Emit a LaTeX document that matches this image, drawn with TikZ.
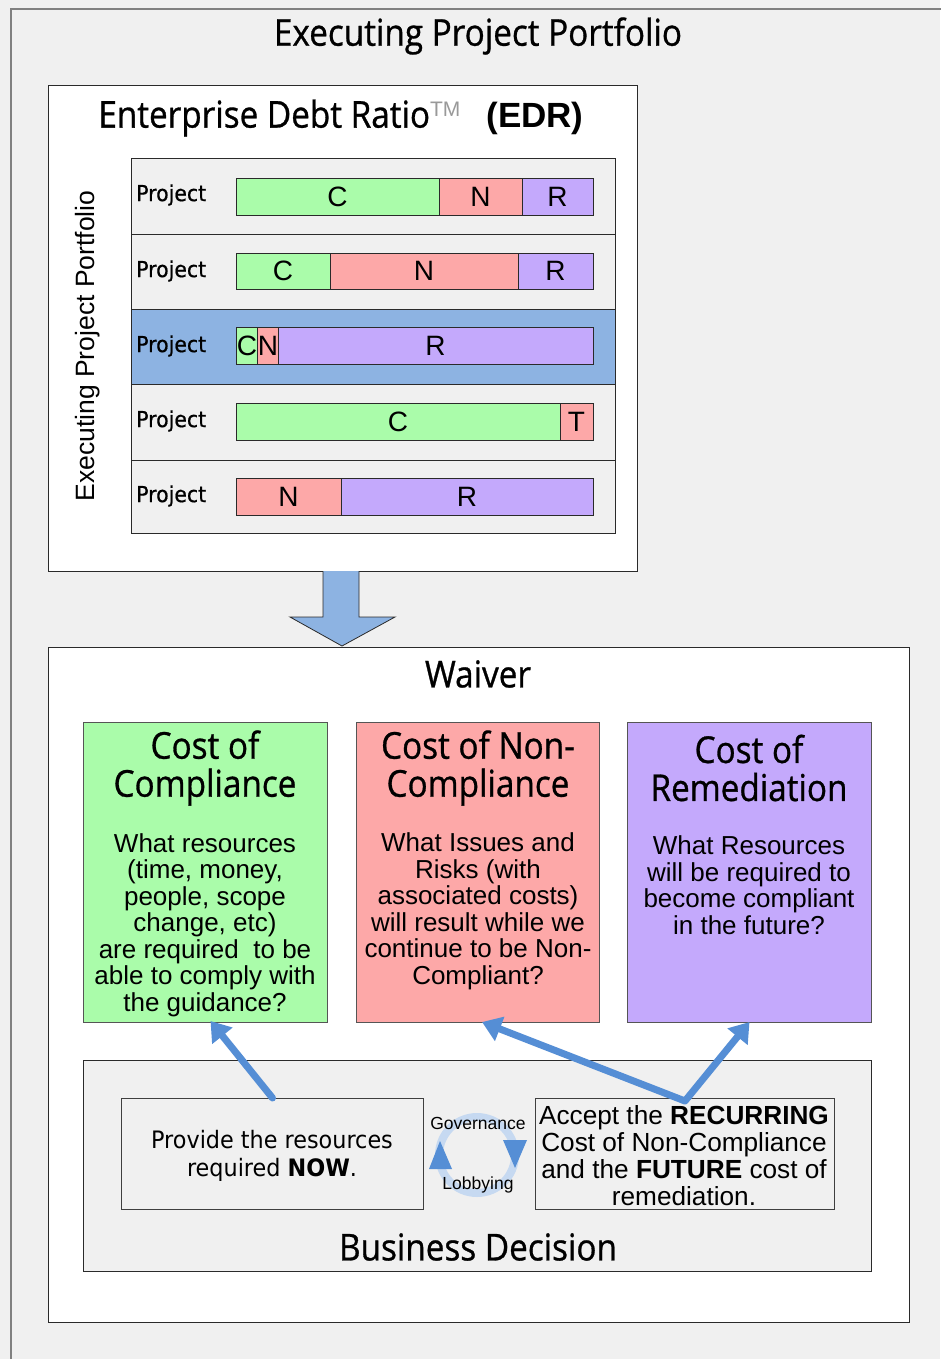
\documentclass[tikz,border=0pt]{standalone}
\usepackage{fontspec}
\setmainfont{Liberation Sans}
\newfontfamily\headfont[FakeStretch=0.9,FakeBold=0.8]{Open Sans}
\newfontfamily\tahfont[FakeStretch=0.93]{DejaVu Sans}
\newfontfamily\projfont[FakeStretch=0.93,FakeBold=0.6]{DejaVu Sans}
\usetikzlibrary{arrows.meta,calc}

\definecolor{pagebg}{HTML}{F0F0F0}
\definecolor{cgreen}{HTML}{AAFCAA}
\definecolor{cpink}{HTML}{FDA8A8}
\definecolor{cpurple}{HTML}{C4A9FC}
\definecolor{rowblue}{HTML}{8DB3E2}
\definecolor{arrowblue}{HTML}{558ED5}
\definecolor{ringblue}{HTML}{C6D9F1}
\definecolor{edgecol}{HTML}{2A2A2A}
\definecolor{framegray}{HTML}{808080}

\tikzset{
  panel/.style={draw=edgecol, line width=1.3pt, fill=white, anchor=north west, inner sep=0pt},
  rowbox/.style={draw=edgecol, line width=1pt, fill=pagebg, anchor=north west, inner sep=0pt},
  segbox/.style={draw=edgecol, line width=0.9pt, inner sep=0pt, font=\fontsize{28}{30}\selectfont},
  costbox/.style={draw=edgecol!80, line width=1pt, anchor=north west, inner sep=0pt},
  headfnt/.style={font=\headfont\fontsize{37}{38}\selectfont},
  headtext/.style={headfnt, inner sep=0pt, align=center},
  bodytext/.style={font=\fontsize{26}{26.5}\selectfont, inner sep=0pt, align=center},
  projlabel/.style={font=\projfont\fontsize{22}{24}\selectfont, anchor=west, inner sep=0pt},
  flowarrow/.style={draw=arrowblue, line width=7pt, line cap=round, line join=round},
}

% one coloured segment of a project bar: name, x1, x2, y1, y2, colour, letter
\newcommand\barseg[7]{%
  \node[segbox, fill=#6, minimum width={(#3-#2)*1pt}, minimum height={(#5-#4)*1pt}]
    (#1) at ({(#2+#3)/2},{(#4+#5)/2}) {#7};}

\begin{document}
\begin{tikzpicture}[x=1pt,y=-1pt]
\useasboundingbox (0,0) rectangle (940,1359);
\fill[pagebg] (0,0) rectangle (940,1359);

% outer frame
\node[draw=framegray, line width=2pt, anchor=north west, minimum width=950pt,
      minimum height=1370pt, inner sep=0pt] (frame) at (10,8) {};
\node[headfnt, inner sep=0pt] (maintitle) at (478,36) {Executing Project Portfolio};

% ---- Enterprise Debt Ratio panel ----
\node[panel, minimum width=589pt, minimum height=486pt] (edr) at (48,85) {};
\node[inner sep=0pt] (edrtitle) at (341,118)
  {\headfont\fontsize{37}{38}\selectfont Enterprise Debt Ratio\raisebox{11pt}{\normalfont\color{gray!80}\fontsize{21}{22}\selectfont TM}\hspace{26pt}\normalfont\fontsize{35}{38}\selectfont\bfseries (EDR)};

\node[rotate=90, font=\fontsize{26.5}{28}\selectfont, inner sep=0pt] (sidelabel) at (88,346) {Executing Project Portfolio};

\node[rowbox, minimum width=484pt, minimum height=76pt] (row1) at (131,158) {};
\node[rowbox, minimum width=484pt, minimum height=75pt] (row2) at (131,234) {};
\node[rowbox, fill=rowblue, minimum width=484pt, minimum height=75pt] (row3) at (131,309) {};
\node[rowbox, minimum width=484pt, minimum height=76pt] (row4) at (131,384) {};
\node[rowbox, minimum width=484pt, minimum height=73pt] (row5) at (131,460) {};

\node[projlabel] (p1) at (136,195) {Project};
\node[projlabel] (p2) at (136,271) {Project};
\node[projlabel] (p3) at (136,346) {Project};
\node[projlabel] (p4) at (136,421) {Project};
\node[projlabel] (p5) at (136,496) {Project};

\barseg{b1c}{236}{439}{178}{215}{cgreen}{C}
\barseg{b1n}{439}{522}{178}{215}{cpink}{N}
\barseg{b1r}{522}{593}{178}{215}{cpurple}{R}
\barseg{b2c}{236}{330}{253}{289}{cgreen}{C}
\barseg{b2n}{330}{518}{253}{289}{cpink}{N}
\barseg{b2r}{518}{593}{253}{289}{cpurple}{R}
\barseg{b3c}{236}{258}{327}{364}{cgreen}{C}
\barseg{b3n}{258}{278}{327}{364}{cpink}{N}
\barseg{b3r}{278}{593}{327}{364}{cpurple}{R}
\barseg{b4c}{236}{560}{403}{440}{cgreen}{C}
\barseg{b4t}{560}{593}{403}{440}{cpink}{T}
\barseg{b5n}{236}{341}{478}{515}{cpink}{N}
\barseg{b5r}{341}{593}{478}{515}{cpurple}{R}

% block arrow from the portfolio down to the waiver
\filldraw[fill=rowblue, draw=edgecol, line width=0.8pt]
  (323,571) -- (323,617) -- (290,617) -- (342,646) -- (395,617) -- (359,617) -- (359,571);

% ---- Waiver panel ----
\node[panel, minimum width=861pt, minimum height=675pt] (waiver) at (48,647) {};
\node[headfnt, inner sep=0pt] (waivertitle) at (478,674) {Waiver};

\node[costbox, fill=cgreen, minimum width=244pt, minimum height=300pt] (greenbox) at (83,722) {};
\node[costbox, fill=cpink, minimum width=243pt, minimum height=300pt] (redbox) at (356,722) {};
\node[costbox, fill=cpurple, minimum width=244pt, minimum height=300pt] (purplebox) at (627,722) {};

\node[headtext] (greenhead) at (205,768) {Cost of\\Compliance};
\node[headtext] (redhead) at (478,768) {Cost of Non-\\Compliance};
\node[headtext] (purplehead) at (749,768) {Cost of\\Remediation};

\node[bodytext] (greenbody) at (205,925)
  {What resources\\(time, money,\\people, scope\\change, etc)\\are required\ \ to be\\able to comply with\\the guidance?};
\node[bodytext] (redbody) at (478,911.5)
  {What Issues and\\Risks (with\\associated costs)\\will result while we\\continue to be Non-\\Compliant?};
\node[bodytext] (purplebody) at (749,885)
  {What Resources\\will be required to\\become compliant\\in the future?};

% ---- Business decision ----
\node[rowbox, line width=1.2pt, minimum width=788pt, minimum height=211pt] (decision) at (83,1060) {};
\node[headfnt, inner sep=0pt] (decisiontitle) at (478,1247) {Business Decision};

\node[rowbox, draw=edgecol!90, minimum width=302pt, minimum height=111pt] (leftdec) at (121,1098) {};
\node[rowbox, draw=edgecol!90, minimum width=299pt, minimum height=111pt] (rightdec) at (535,1098) {};

\node[font=\tahfont\fontsize{24}{27.5}\selectfont, align=center, inner sep=0pt] (lefttext) at (272,1156)
  {Provide the resources\\required \textbf{NOW}.};
\node[font=\fontsize{26.2}{27}\selectfont, align=center, inner sep=0pt] (righttext) at (684,1156)
  {Accept the \textbf{RECURRING}\\Cost of Non-Compliance\\and the \textbf{FUTURE} cost of\\remediation.};

% governance / lobbying cycle
\node[circle, draw=ringblue, line width=8pt, minimum size=76pt, inner sep=0pt] (ring) at (477,1155) {};
\fill[arrowblue] (429,1169) -- (452,1169) -- (440,1141) -- cycle;
\fill[arrowblue] (503,1140) -- (527,1140) -- (515,1168) -- cycle;
\node[font=\fontsize{17.5}{18}\selectfont, inner sep=0pt] (gov) at (478,1123) {Governance};
\node[font=\fontsize{17.5}{18}\selectfont, inner sep=0pt] (lob) at (478,1185) {Lobbying};

% decision arrows
\draw[flowarrow, -{Triangle[width=25pt,length=19pt]}] (leftdec.north) -- ([xshift=5pt,yshift=2pt]greenbox.south);
\draw[flowarrow, {Triangle[width=25pt,length=19pt]}-{Triangle[width=25pt,length=19pt]}]
  ([xshift=4pt,yshift=1pt]redbox.south) -- ([yshift=-3pt]rightdec.north) -- ([yshift=1pt]purplebox.south);
\end{tikzpicture}
\end{document}
